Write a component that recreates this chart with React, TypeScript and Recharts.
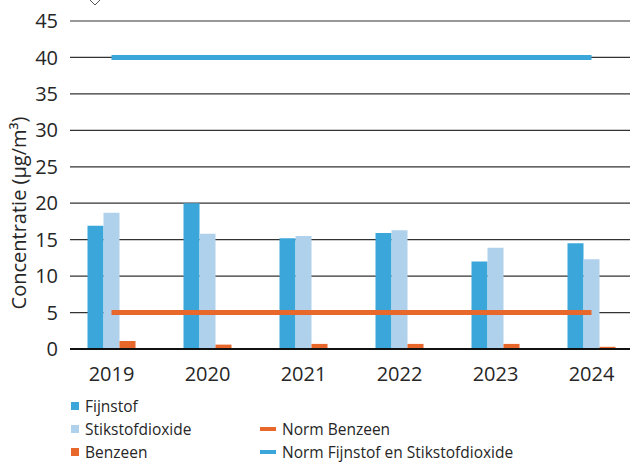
import { ComposedChart, Bar, Line, XAxis, YAxis, CartesianGrid } from "recharts";

const years = ["2019", "2020", "2021", "2022", "2023", "2024"];
const fijnstof = [16.9, 20.0, 15.2, 15.9, 12.0, 14.5];
const stikstofdioxide = [18.7, 15.8, 15.5, 16.3, 13.9, 12.3];
const benzeen = [1.1, 0.6, 0.7, 0.7, 0.7, 0.3];
const normBenzeen = [5, 5, 5, 5, 5, 5];
const normFijnstofNO2 = [40, 40, 40, 40, 40, 40];
const yTicks = [0, 5, 10, 15, 20, 25, 30, 35, 40, 45];

const BLUE = "#3ba6da";
const LIGHT = "#afd1ec";
const ORANGE = "#e8672a";
const TEXT = "#262626";
const FONT = "'Open Sans', 'Noto Sans', sans-serif";

const data = years.map((year, i) => ({
  year,
  fijnstof: fijnstof[i],
  stikstofdioxide: stikstofdioxide[i],
  benzeen: benzeen[i],
  normBenzeen: normBenzeen[i],
  normFijnstofNO2: normFijnstofNO2[i],
}));

const legendItems = [
  { label: "Fijnstof", color: BLUE, kind: "box", left: 71, top: 406 },
  { label: "Stikstofdioxide", color: LIGHT, kind: "box", left: 71, top: 429 },
  { label: "Benzeen", color: ORANGE, kind: "box", left: 71, top: 452 },
  { label: "Norm Benzeen", color: ORANGE, kind: "line", left: 260, top: 429 },
  { label: "Norm Fijnstof en Stikstofdioxide", color: BLUE, kind: "line", left: 260, top: 452 },
];

const YLabel = () => (
  <text
    x={18}
    y={213}
    transform="rotate(-90, 18, 213)"
    textAnchor="middle"
    dominantBaseline="central"
    fill={TEXT}
    fontSize={20}
    fontFamily={FONT}
  >
    Concentratie (µg/m³)
  </text>
);

export default function App() {
  return (
    <div style={{ position: "fixed", left: 0, top: 0, width: 630, height: 462, overflow: "hidden", background: "#fff", fontFamily: FONT }}>
      <svg width="14" height="8" style={{ position: "absolute", left: 88, top: 0 }}>
        <polyline points="2,0 7,5 12,0" fill="none" stroke="#555" strokeWidth="1" />
      </svg>
      <ComposedChart
        width={630}
        height={462}
        data={data}
        margin={{ top: 21, right: 0, bottom: 0, left: 0 }}
        barCategoryGap={24}
        barGap={0}
      >
        <CartesianGrid vertical={false} stroke="#333" strokeWidth={1.2} />
        <XAxis
          dataKey="year"
          height={113}
          padding={{ left: -6.5, right: -9.5 }}
          axisLine={{ stroke: "#111", strokeWidth: 2 }}
          tickLine={false}
          tickSize={6}
          tickMargin={12}
          tick={{ fill: TEXT, fontSize: 20, fontFamily: FONT }}
        />
        <YAxis
          width={70}
          domain={[0, 45]}
          ticks={yTicks}
          interval={0}
          axisLine={false}
          tickLine={false}
          tickSize={6}
          tickMargin={6}
          tick={{ fill: TEXT, fontSize: 20, fontFamily: FONT }}
          label={<YLabel />}
        />
        <Bar dataKey="fijnstof" fill={BLUE} isAnimationActive={false} />
        <Bar dataKey="stikstofdioxide" fill={LIGHT} isAnimationActive={false} />
        <Bar dataKey="benzeen" fill={ORANGE} isAnimationActive={false} />
        <Line dataKey="normBenzeen" stroke={ORANGE} strokeWidth={5} dot={false} activeDot={false} isAnimationActive={false} />
        <Line dataKey="normFijnstofNO2" stroke={BLUE} strokeWidth={5} dot={false} activeDot={false} isAnimationActive={false} />
      </ComposedChart>
      {legendItems.map((item) => (
        <div
          key={item.label}
          style={{ position: "absolute", left: item.left, top: item.top, transform: "translateY(-50%)", display: "flex", alignItems: "center", fontSize: 15.5, lineHeight: "20px", color: TEXT, whiteSpace: "nowrap" }}
        >
          {item.kind === "box" ? (
            <span style={{ display: "inline-block", width: 8, height: 8, background: item.color, marginRight: 6 }} />
          ) : (
            <span style={{ display: "inline-block", width: 16, height: 4, background: item.color, marginRight: 6 }} />
          )}
          <span>{item.label}</span>
        </div>
      ))}
    </div>
  );
}
